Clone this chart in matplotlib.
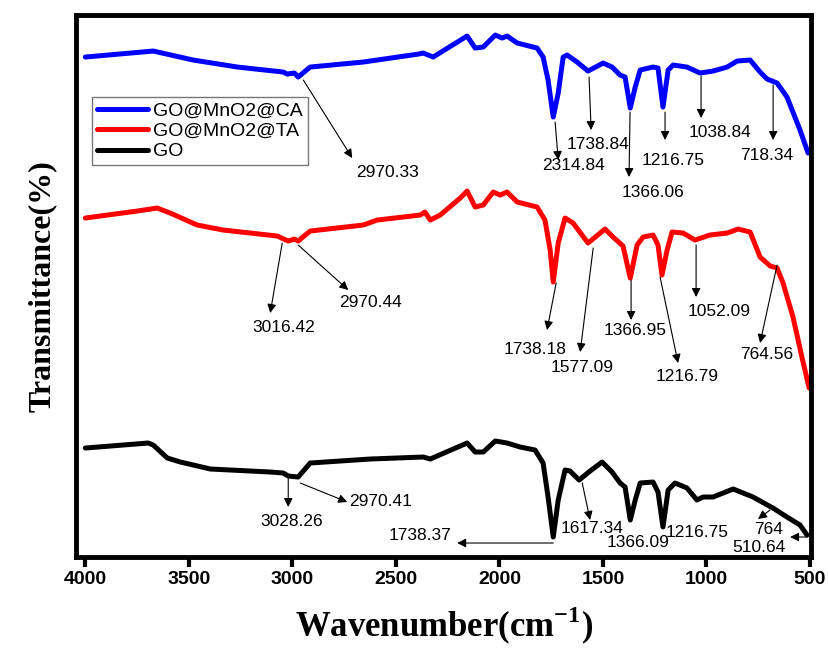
import numpy as np
from matplotlib import pyplot as plt

plt.rcParams['font.family'] = ['Liberation Sans', 'DejaVu Sans']
plt.rcParams['mathtext.fontset'] = 'custom'
plt.rcParams['mathtext.rm'] = 'Liberation Serif'
plt.rcParams['mathtext.bf'] = 'Liberation Serif:bold'

# FTIR spectra (wavenumber in cm-1, transmittance in arbitrary offset units)
wn_ca = [4000, 3672, 3479, 3266, 3044, 3025, 2990, 2972, 2914, 2658, 2390, 2368,
         2320, 2156, 2117, 2078, 2020, 1987, 1963, 1914, 1818, 1789, 1765, 1740,
         1716, 1692, 1673, 1625, 1572, 1499, 1456, 1417, 1393, 1368, 1344, 1320,
         1258, 1234, 1210, 1185, 1161, 1094, 1031, 968, 900, 852, 789, 741, 707,
         659, 611, 548, 509]
t_ca = [500, 506, 497, 490, 485, 483, 484, 480, 490, 495, 503, 504,
        500, 521, 509, 510, 522, 519, 521, 514, 509, 500, 477, 440,
        464, 500, 502, 495, 486, 494, 490, 482, 480, 449, 470, 487,
        490, 489, 450, 487, 492, 490, 484, 486, 490, 496, 497, 485, 478,
        474, 460, 427, 404]

wn_ta = [4000, 3749, 3653, 3590, 3460, 3334, 3073, 3020, 2990, 2972, 2914, 2658,
         2590, 2382, 2360, 2334, 2286, 2189, 2156, 2117, 2078, 2030, 1996, 1963,
         1914, 1818, 1780, 1755, 1740, 1716, 1683, 1644, 1572, 1490, 1451, 1403,
         1368, 1335, 1306, 1258, 1234, 1215, 1190, 1166, 1113, 1055, 983, 900,
         847, 789, 741, 692, 659, 630, 582, 539, 504]
t_ta = [339, 346, 349, 344, 332, 327, 321, 316, 318, 316, 326, 332,
        337, 342, 345, 337, 342, 359, 366, 350, 352, 365, 362, 365,
        355, 350, 337, 307, 275, 314, 339, 334, 314, 328, 320, 311,
        279, 312, 320, 322, 312, 282, 307, 325, 324, 317, 322, 324,
        328, 325, 300, 291, 289, 274, 240, 200, 169]

wn_go = [4000, 3696, 3672, 3604, 3541, 3396, 3107, 3044, 3020, 2972, 2914, 2624,
         2368, 2334, 2156, 2117, 2078, 2020, 1963, 1900, 1828, 1789, 1765, 1740,
         1716, 1683, 1659, 1615, 1562, 1504, 1456, 1417, 1393, 1368, 1344, 1320,
         1258, 1234, 1210, 1185, 1152, 1094, 1046, 1017, 968, 871, 775, 679,
         611, 548, 514]
t_go = [109, 114, 112, 99, 95, 88, 85, 84, 81, 80, 94, 98,
        100, 98, 114, 105, 105, 116, 114, 110, 107, 94, 60, 20,
        57, 87, 86, 77, 86, 95, 85, 74, 70, 37, 57, 74,
        75, 65, 30, 67, 74, 69, 57, 60, 60, 68, 60, 49,
        40, 32, 22]

labels = ['GO@MnO2@CA', 'GO@MnO2@TA', 'GO']
colors = ['#0000ff', '#ff0000', '#000000']

# peak labels: (text, arrow tail, arrow head, text position)
peaks = [
    ('2970.33', (2947, 477), (2711, 399), (2542, 385)),
    ('2314.84', (1731, 435), (1716, 397), (1644, 392)),
    ('1738.84', (1567, 480), (1557, 427), (1523, 413)),
    ('1366.06', (1369, 445), (1374, 380), (1258, 365)),
    ('1216.75', (1200, 445), (1200, 417), (1161, 397)),
    ('1038.84', (1026, 481), (1026, 439), (934, 425)),
    ('718.34', (678, 472), (678, 417), (707, 402)),
    ('3016.42', (3049, 314), (3107, 244), (3044, 230)),
    ('2970.44', (2972, 312), (2730, 267), (2624, 255)),
    ('1738.18', (1726, 274), (1770, 227), (1827, 208)),
    ('1577.09', (1547, 309), (1610, 205), (1600, 190)),
    ('1366.95', (1364, 277), (1364, 237), (1345, 227)),
    ('1216.79', (1224, 280), (1137, 194), (1094, 181)),
    ('1052.09', (1050, 312), (1050, 260), (939, 246)),
    ('764.56', (659, 292), (741, 214), (707, 203)),
    ('3028.26', (3020, 80), (3020, 50), (3001, 36)),
    ('2970.41', (2962, 74), (2735, 55), (2576, 56)),
    ('1738.37', (1740, 14), (2204, 14), (2383, 22)),
    ('1617.34', (1600, 74), (1562, 37), (1552, 29)),
    ('1366.09', None, None, (1330, 15)),
    ('1216.75', None, None, (1045, 25)),
    ('764', (693, 47), (751, 38), (698, 28)),
    ('510.64', (514, 20), (596, 20), (746, 10)),
]

fig = plt.figure(figsize=(8.29, 6.54), dpi=100)
ax = fig.add_axes([0.0917, 0.1483, 0.8866, 0.8287])

for wn, t, lab, c in zip([wn_ca, wn_ta, wn_go], [t_ca, t_ta, t_go], labels, colors):
    ax.plot(wn, t, color=c, linewidth=3.6, label=lab, solid_joinstyle='round',
            solid_capstyle='round')

for txt, tail, head, pos in peaks:
    if tail is not None:
        ax.annotate('', xy=head, xytext=tail,
                    arrowprops=dict(arrowstyle='-|>', color='black', lw=0.8,
                                    mutation_scale=13, shrinkA=0, shrinkB=0))
    ax.text(pos[0], pos[1], txt, fontsize=12.5, ha='center', va='center')

ax.set_xlim(4045, 495)
ax.set_ylim(0, 542)
ax.set_xticks([4000, 3500, 3000, 2500, 2000, 1500, 1000, 500])
ax.set_yticks([])
ax.tick_params(axis='x', direction='out', length=7, width=3, pad=3)
for lbl in ax.get_xticklabels():
    lbl.set_fontsize(14)
    lbl.set_fontweight('bold')
for sp in ax.spines.values():
    sp.set_linewidth(3.5)

ax.set_xlabel(r'Wavenumber(cm$^{\mathbf{-1}}$)', fontsize=25, fontweight='bold',
              family='Liberation Serif', labelpad=12)
ax.set_ylabel('Transmittance(%)', fontsize=23, fontweight='bold',
              family='Liberation Serif', labelpad=14)

leg = ax.legend(loc='upper left', bbox_to_anchor=(0.022, 0.849), fontsize=14,
                frameon=True, fancybox=False, handlelength=2.6, handletextpad=0.3,
                borderpad=0.25, labelspacing=0.15, borderaxespad=0)
leg.get_frame().set_edgecolor('#555555')
leg.get_frame().set_linewidth(1.0)

plt.savefig('out.png', dpi=100)
